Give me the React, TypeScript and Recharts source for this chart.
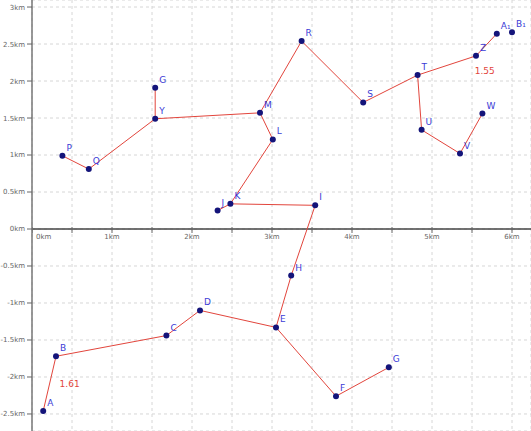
import React from 'react';
import {
  ScatterChart,
  Scatter,
  XAxis,
  YAxis,
  CartesianGrid,
  ReferenceLine,
  ReferenceDot,
} from 'recharts';

// upper route (above the x axis)
const upperLabels = ['P', 'Q', 'Y', 'G', 'M', 'L', 'K', 'J', 'I', 'R', 'S', 'T', 'Z', 'A₁', 'B₁', 'U', 'V', 'W'];
const upperX = [0.38, 0.71, 1.54, 1.54, 2.85, 3.01, 2.48, 2.32, 3.54, 3.37, 4.14, 4.82, 5.55, 5.81, 6.0, 4.87, 5.35, 5.63];
const upperY = [0.99, 0.81, 1.49, 1.91, 1.57, 1.21, 0.34, 0.25, 0.32, 2.54, 1.71, 2.08, 2.34, 2.64, 2.66, 1.34, 1.02, 1.56];

// lower route (below the x axis)
const lowerLabels = ['A', 'B', 'C', 'D', 'E', 'H', 'F', 'G'];
const lowerX = [0.14, 0.3, 1.68, 2.1, 3.05, 3.24, 3.8, 4.46];
const lowerY = [-2.46, -1.72, -1.44, -1.1, -1.33, -0.63, -2.26, -1.87];

// segments, "u:" = upper point, "l:" = lower point
const segments = [
  ['u:P', 'u:Q'], ['u:Q', 'u:Y'], ['u:Y', 'u:G'], ['u:Y', 'u:M'], ['u:M', 'u:R'],
  ['u:M', 'u:L'], ['u:L', 'u:K'], ['u:K', 'u:J'], ['u:K', 'u:I'], ['u:R', 'u:S'],
  ['u:S', 'u:T'], ['u:T', 'u:Z'], ['u:Z', 'u:A₁'], ['u:T', 'u:U'], ['u:U', 'u:V'],
  ['u:V', 'u:W'],
  ['l:A', 'l:B'], ['l:B', 'l:C'], ['l:C', 'l:D'], ['l:D', 'l:E'], ['l:E', 'l:H'],
  ['l:H', 'u:I'], ['l:E', 'l:F'], ['l:F', 'l:G'],
];

// segment length annotations
const noteText = ['1.55', '1.61'];
const noteX = [5.66, 0.47];
const noteY = [2.14, -2.09];

const xTicks = [0, 0.5, 1, 1.5, 2, 2.5, 3, 3.5, 4, 4.5, 5, 5.5, 6];
const yTicks = [-2.5, -2, -1.5, -1, -0.5, 0, 0.5, 1, 1.5, 2, 2.5, 3];

const upperData = upperLabels.map((label, i) => ({ label, x: upperX[i], y: upperY[i] }));
const lowerData = lowerLabels.map((label, i) => ({ label, x: lowerX[i], y: lowerY[i] }));
const xTickData = xTicks.map((v) => ({ x: v, y: 0, v }));

const lookup: Record<string, { x: number; y: number }> = {};
upperData.forEach((p) => (lookup['u:' + p.label] = p));
lowerData.forEach((p) => (lookup['l:' + p.label] = p));

const FONT = '"DejaVu Sans", sans-serif';

const PointShape = (props: any) => {
  const { cx, cy, payload } = props;
  return (
    <g>
      <circle cx={cx} cy={cy} r={3} fill="#14147a" />
      <text x={cx + 4} y={cy - 5} fontSize={9} fill="#3b3bd6" fontFamily={FONT}>
        {payload.label}
      </text>
    </g>
  );
};

const XTickShape = (props: any) => {
  const { cx, cy, payload } = props;
  const isInt = Number.isInteger(payload.v);
  return (
    <g>
      <line x1={cx} x2={cx} y1={cy - 2} y2={cy + 4} stroke="#666" strokeWidth={1} />
      {isInt && (
        <text
          x={payload.v === 0 ? cx + 4 : cx}
          y={cy + 10}
          fontSize={7}
          fill="#666"
          fontFamily={FONT}
          textAnchor={payload.v === 0 ? 'start' : 'middle'}
        >
          {payload.v + 'km'}
        </text>
      )}
    </g>
  );
};

export default function App() {
  return (
    <div style={{ position: 'absolute', left: 0, top: 0, background: '#fff' }}>
      <ScatterChart width={531} height={431} margin={{ top: 0, right: 0, bottom: 0, left: 0 }}>
        <CartesianGrid stroke="#d6d6d6" strokeDasharray="3 3" />
        <XAxis
          type="number"
          dataKey="x"
          domain={[0, 6.2375]}
          ticks={xTicks}
          allowDataOverflow
          hide
        />
        <YAxis
          type="number"
          dataKey="y"
          domain={[-2.73, 3.095]}
          ticks={yTicks}
          allowDataOverflow
          width={32}
          interval={0}
          tickSize={5}
          tickLine={{ stroke: '#666' }}
          axisLine={{ stroke: '#777', strokeWidth: 1.5 }}
          tickFormatter={(v: number) => v + 'km'}
          tick={{ fontSize: 7, fill: '#666', fontFamily: FONT }}
        />
        <ReferenceLine y={0} stroke="#444" strokeWidth={1.5} />
        {segments.map(([a, b], i) => (
          <ReferenceLine
            key={i}
            segment={[
              { x: lookup[a].x, y: lookup[a].y },
              { x: lookup[b].x, y: lookup[b].y },
            ]}
            stroke="#e2453c"
            strokeWidth={1}
          />
        ))}
        {noteText.map((t, i) => (
          <ReferenceDot
            key={t}
            x={noteX[i]}
            y={noteY[i]}
            r={0}
            stroke="none"
            label={{ value: t, fill: '#e2453c', fontSize: 9, fontFamily: FONT }}
          />
        ))}
        <Scatter data={xTickData} shape={<XTickShape />} isAnimationActive={false} />
        <Scatter data={upperData} shape={<PointShape />} isAnimationActive={false} />
        <Scatter data={lowerData} shape={<PointShape />} isAnimationActive={false} />
      </ScatterChart>
    </div>
  );
}
